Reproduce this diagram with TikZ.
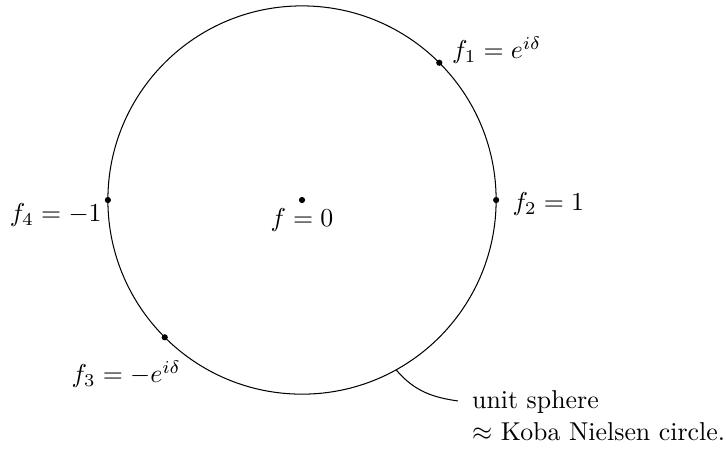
\documentclass[tikz,border=0pt]{standalone}
\usepackage{amsmath,amssymb}
\usepackage{tikz}
\usetikzlibrary{positioning,calc}
\tikzset{
  pt/.style={circle,fill=black,inner sep=0pt,minimum size=2.4pt},
  lbl/.style={inner sep=0pt},
  pointer/.style={shorten >=2pt},
}

\begin{document}
\begin{tikzpicture}
\useasboundingbox (-4.107,-3.427) rectangle (5.766,2.72);
\draw (0,0) circle (2.64);
\node[pt] (c0) at (0,0) {};
\node[pt] (p1) at (45:2.64) {};
\node[pt] (p2) at (0:2.64) {};
\node[pt] (p3) at (225:2.64) {};
\node[pt] (p4) at (180:2.64) {};
\coordinate (rim) at (-61:2.64);
\node[lbl] (l0) at (0,-0.27) {$f=0$};
\node[lbl] (l1) at (2.65,2.04) {$f_1=e^{i\delta}$};
\node[lbl] (l2) at (3.35,-0.05) {$f_2=1$};
\node[lbl] (l3) at (-2.39,-2.37) {$f_3=-e^{i\delta}$};
\node[lbl] (l4) at (-3.35,-0.20) {$f_4=-1$};
\node[anchor=base west] (sph) at (2.19,-2.83) {unit sphere};
\node[anchor=base west] (kns) at (2.19,-3.27) {$\approx$ Koba Nielsen circle.};
\draw[pointer] (rim) to[out=-50,in=172] (sph.west);
\end{tikzpicture}
\end{document}
